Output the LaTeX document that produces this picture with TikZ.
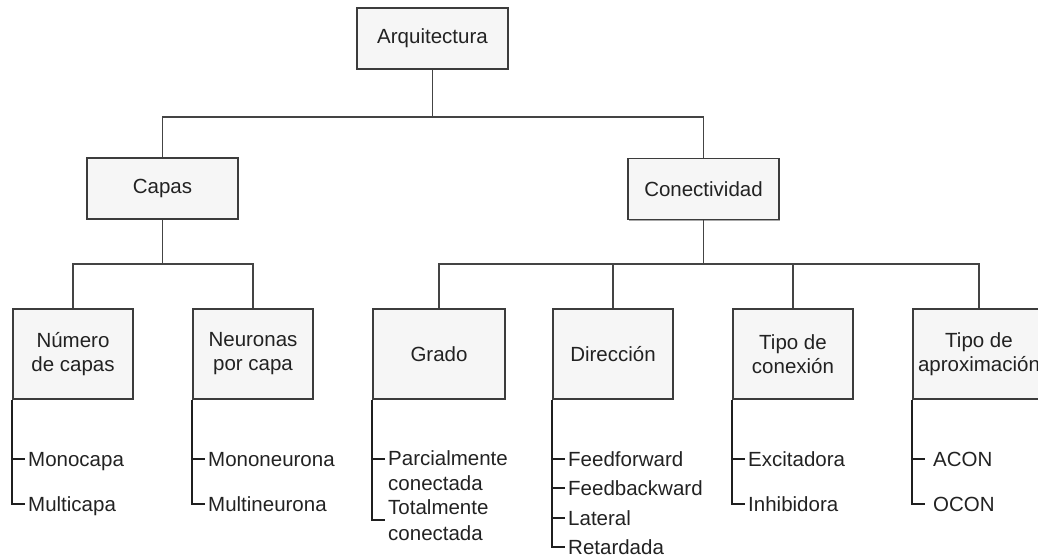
\documentclass[tikz,border=0pt]{standalone}
\usepackage{fontspec}
\setmainfont{Liberation Sans}
\usetikzlibrary{shadows}
\definecolor{boxline}{HTML}{3C3C3C}
\definecolor{boxfill}{HTML}{F6F6F6}
\definecolor{boxshade}{HTML}{A8A8A8}
\definecolor{linecol}{HTML}{444444}
\definecolor{ink}{HTML}{222222}
\newcommand{\diafont}{\fontsize{20.5pt}{24pt}\selectfont}
\begin{document}
\begin{tikzpicture}[x=1pt,y=-1pt,
  box/.style={draw=boxline, fill=boxfill, line width=1.7pt, inner sep=0pt,
    align=center, text=ink, font=\diafont,
    drop shadow={shadow xshift=1.3pt, shadow yshift=-1.3pt, fill=boxshade, opacity=1}},
  topbox/.style={box, minimum width=151pt, minimum height=61pt},
  subbox/.style={box, minimum width=120pt, minimum height=90pt},
  widebox/.style={subbox, minimum width=132pt},
  conn/.style={draw=linecol, line width=1.6pt, line join=miter},
  leafline/.style={draw=black!88, line width=2pt, line join=miter},
  leaf/.style={anchor=west, inner ysep=0pt, inner xsep=3pt, text=ink,
    font=\diafont, text height=15pt, text depth=0pt},
  leaftwo/.style={inner ysep=0pt, inner xsep=3pt, align=left, text=ink,
    font=\fontsize{20.5pt}{25.5pt}\selectfont},
]
\useasboundingbox (0,0) rectangle (1038,558);
\clip (0,0) rectangle (1038,558);

% levels of the horizontal bars
\coordinate (bar1) at (0,117);
\coordinate (bar2) at (0,264);

% tree boxes
\node[topbox] (arq) at (432.5,38.5) {Arquitectura};
\node[topbox] (capas) at (162.5,188.5) {Capas};
\node[topbox] (conect) at (703.5,189) {Conectividad};

\node[subbox] (ncap) at (73,354) {Número\\de capas};
\node[subbox] (npc) at (253,354) {Neuronas\\por capa};
\node[widebox] (grado) at (439,354) {Grado};
\node[subbox] (dir) at (613,354) {Dirección};
\node[subbox] (tcon) at (793,354) {Tipo de\\conexión};
\node[widebox] (tapr) at (979,354) {Tipo de\\aproximación};

% tree connectors
\draw[conn] (arq.south) -- (arq.south |- bar1) -| (capas.north);
\draw[conn] (arq.south |- bar1) -| (conect.north);

\draw[conn] (capas.south) -- (capas.south |- bar2) -| (ncap.north);
\draw[conn] (capas.south |- bar2) -| (npc.north);

\draw[conn] (conect.south) -- (conect.south |- bar2);
\draw[conn] (grado.north) |- (conect.south |- bar2);
\draw[conn] (tapr.north) |- (conect.south |- bar2);
\draw[conn] (dir.north) -- (dir.north |- bar2);
\draw[conn] (tcon.north) -- (tcon.north |- bar2);

% leaves: Número de capas
\node[leaf] (monoc) at (25,459) {Monocapa};
\node[leaf] (multic) at (25,504) {Multicapa};
\draw[leafline] (ncap.south west) |- (multic.west);
\draw[leafline] (ncap.south west |- monoc.west) -- (monoc.west);

% leaves: Neuronas por capa
\node[leaf] (monon) at (205,459) {Mononeurona};
\node[leaf] (multin) at (205,504) {Multineurona};
\draw[leafline] (npc.south west) |- (multin.west);
\draw[leafline] (npc.south west |- monon.west) -- (monon.west);

% leaves: Grado
\node[leaftwo, anchor=north west] (parc) at (385,450) {Parcialmente\\conectada};
\node[leaftwo, anchor=west] (total) at (385,520) {Totalmente\\conectada};
\coordinate (parctick) at ([yshift=-9pt]parc.north west);
\draw[leafline] (grado.south west) |- (total.west);
\draw[leafline] (grado.south west |- parctick) -- (parctick);

% leaves: Dirección
\node[leaf] (ff) at (565,459) {Feedforward};
\node[leaf] (fb) at (565,488) {Feedbackward};
\node[leaf] (lat) at (565,518) {Lateral};
\node[leaf] (ret) at (565,547) {Retardada};
\draw[leafline] (dir.south west) |- (ret.west);
\draw[leafline] (dir.south west |- ff.west) -- (ff.west);
\draw[leafline] (dir.south west |- fb.west) -- (fb.west);
\draw[leafline] (dir.south west |- lat.west) -- (lat.west);

% leaves: Tipo de conexión
\node[leaf] (exc) at (745,459) {Excitadora};
\node[leaf] (inh) at (745,504) {Inhibidora};
\draw[leafline] (tcon.south west) |- (inh.west);
\draw[leafline] (tcon.south west |- exc.west) -- (exc.west);

% leaves: Tipo de aproximación
\node[leaf, inner xsep=8pt] (acon) at (925,459) {ACON};
\node[leaf, inner xsep=8pt] (ocon) at (925,504) {OCON};
\draw[leafline] (tapr.south west) |- (ocon.west);
\draw[leafline] (tapr.south west |- acon.west) -- (acon.west);
\end{tikzpicture}
\end{document}
